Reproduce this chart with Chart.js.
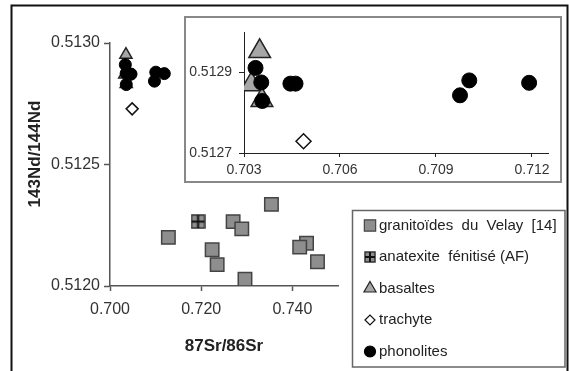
<!DOCTYPE html>
<html>
<head>
<meta charset="utf-8">
<script src="https://cdn.jsdelivr.net/npm/chart.js@4.4.0/dist/chart.umd.min.js"></script>
<style>
    body { margin: 0; background: #fff; }
    #wrap { position: relative; width: 569px; height: 371px; }
    #main { position: absolute; left: 0; top: 0; }
    #inset { position: absolute; left: 184px; top: 16px; }
</style>
</head>
<body>
<div id="wrap">
    <canvas id="main" width="569" height="371"></canvas>
    <canvas id="inset" width="378" height="167"></canvas>
</div>
<script>
// Données
const graniteX = [0.7128, 0.7270, 0.7289, 0.7224, 0.7235, 0.7296, 0.7354, 0.7431, 0.7416, 0.7455]
const graniteY = [0.51220, 0.512265, 0.512235, 0.512149, 0.512088, 0.512028, 0.512336, 0.512176, 0.512160, 0.512100]
const afX = [0.7193]
const afY = [0.512265]
const basalteX = [0.70349, 0.70323, 0.70356]
const basalteY = [0.512952, 0.512870, 0.512831]
const trachyteX = [0.70486]
const trachyteY = [0.512729]
const phonoliteX = [0.70336, 0.70354, 0.70357, 0.70445, 0.70461, 0.71004, 0.70975, 0.71191]
const phonoliteY = [0.512911, 0.512875, 0.512829, 0.512872, 0.512872, 0.512880, 0.512843, 0.512874]

const legendLabels = ['granitoïdes  du  Velay  [14]', 'anatexite  fénitisé (AF)', 'basaltes', 'trachyte', 'phonolites']

// Ticks
const mainXTicks = [0.700, 0.720, 0.740]
const mainYTicks = [0.5120, 0.5125, 0.5130]
const insetXTicks = [0.703, 0.706, 0.709, 0.712]
const insetYTicks = [0.5127, 0.5129]

const FONT = '"Liberation Sans", Arial, sans-serif'

function pts(xs, ys) {
    return xs.map((x, i) => ({ x: x, y: ys[i] }))
}

// carré gris avec une croix (AF)
function crossSquare(size) {
    const c = document.createElement('canvas')
    c.width = size
    c.height = size
    const g = c.getContext('2d')
    g.fillStyle = '#8e8e8e'
    g.fillRect(1, 1, size - 2, size - 2)
    g.strokeStyle = '#333'
    g.lineWidth = 1.5
    g.strokeRect(1, 1, size - 2, size - 2)
    g.lineWidth = 2
    g.strokeStyle = '#111'
    g.beginPath()
    g.moveTo(size / 2, 1); g.lineTo(size / 2, size - 1)
    g.moveTo(1, size / 2); g.lineTo(size - 1, size / 2)
    g.stroke()
    return c
}

function makeDatasets(big) {
    return [{
        label: legendLabels[0],
        data: pts(graniteX, graniteY),
        pointStyle: 'rect',
        pointRadius: 9.5,
        backgroundColor: '#8e8e8e',
        borderColor: '#444',
        borderWidth: 1.5,
        order: 5
    }, {
        label: legendLabels[1],
        data: pts(afX, afY),
        pointStyle: crossSquare(15),
        pointRadius: 8,
        backgroundColor: '#8e8e8e',
        borderColor: '#333',
        order: 4
    }, {
        label: legendLabels[2],
        data: pts(basalteX, basalteY),
        pointStyle: 'triangle',
        pointRadius: big ? 12.5 : 7,
        backgroundColor: '#a6a6a6',
        borderColor: '#222',
        borderWidth: 1.5,
        order: 3
    }, {
        label: legendLabels[3],
        data: pts(trachyteX, trachyteY),
        pointStyle: 'rectRot',
        pointRadius: big ? 7.5 : 6,
        backgroundColor: '#fff',
        borderColor: '#111',
        borderWidth: 1.5,
        order: 2
    }, {
        label: legendLabels[4],
        data: pts(phonoliteX, phonoliteY),
        pointStyle: 'circle',
        pointRadius: big ? 7.5 : 6,
        backgroundColor: '#000',
        borderColor: '#000',
        borderWidth: 1,
        order: 1
    }]
}

// cadre + titre Y + légende
const frameLegend = {
    id: 'frameLegend',
    afterDraw(chart) {
        const ctx = chart.ctx
        ctx.save()
        ctx.strokeStyle = '#111'
        ctx.lineWidth = 2
        ctx.beginPath()
        ctx.moveTo(11.5, 380)
        ctx.lineTo(11.5, 5.5)
        ctx.lineTo(567.5, 5.5)
        ctx.lineTo(567.5, 380)
        ctx.stroke()

        // titre de l'axe Y
        ctx.save()
        ctx.translate(35, 154)
        ctx.rotate(-Math.PI / 2)
        ctx.font = 'bold 17px ' + FONT
        ctx.fillStyle = '#222'
        ctx.textAlign = 'center'
        ctx.textBaseline = 'middle'
        ctx.fillText('143Nd/144Nd', 0, 0)
        ctx.restore()

        ctx.strokeStyle = '#666'
        ctx.lineWidth = 1.5
        ctx.strokeRect(352.5, 210.5, 212.5, 156.5)

        const radii = [8, 6, 7, 5, 5.5]
        ctx.font = '15px ' + FONT
        ctx.textBaseline = 'middle'
        chart.data.datasets.forEach((ds, i) => {
            const y = 225.5 + i * 31.5
            ctx.fillStyle = ds.backgroundColor
            ctx.strokeStyle = ds.borderColor
            ctx.lineWidth = 1.2
            let style = ds.pointStyle
            if (i == 1) style = crossSquare(12)
            Chart.helpers.drawPoint(ctx, { pointStyle: style, radius: radii[i], rotation: 0, borderWidth: 1.2 }, 370, y)
            ctx.fillStyle = '#222'
            ctx.fillText(ds.label, 379, y)
        })
        ctx.restore()
    }
}

const insetBox = {
    id: 'insetBox',
    beforeDraw(chart) {
        const ctx = chart.ctx
        ctx.save()
        ctx.fillStyle = '#fff'
        ctx.fillRect(0, 0, chart.width, chart.height)
        ctx.restore()
    },
    afterDraw(chart) {
        const ctx = chart.ctx
        ctx.save()
        ctx.strokeStyle = '#888'
        ctx.lineWidth = 2
        ctx.strokeRect(1, 1, chart.width - 2, chart.height - 2)
        ctx.restore()
    }
}

new Chart(document.getElementById('main').getContext('2d'), {
    type: 'scatter',
    data: { datasets: makeDatasets(false) },
    options: {
        responsive: false,
        animation: false,
        devicePixelRatio: 1,
        layout: { padding: { top: 43, right: 231, bottom: 0, left: 0 } },
        plugins: { legend: { display: false }, tooltip: { enabled: false } },
        scales: {
            x: {
                type: 'linear',
                min: 0.700,
                max: 0.750,
                afterBuildTicks: s => { s.ticks = mainXTicks.map(v => ({ value: v })) },
                afterFit: s => { s.height = 85 },
                ticks: { callback: v => v.toFixed(3), color: '#333', font: { family: FONT, size: 16 }, padding: 9, maxRotation: 0, autoSkip: false },
                grid: { drawOnChartArea: false, tickLength: 5, color: '#555', tickWidth: 1.5 },
                border: { color: '#555', width: 1.5 },
                title: { display: true, text: '87Sr/86Sr', color: '#222', font: { family: FONT, size: 17, weight: 'bold' }, padding: { bottom: 14 } }
            },
            y: {
                type: 'linear',
                min: 0.5120,
                max: 0.5130,
                afterBuildTicks: s => { s.ticks = mainYTicks.map(v => ({ value: v })) },
                afterFit: s => { s.width = 110 },
                ticks: { callback: v => v.toFixed(4), color: '#333', font: { family: FONT, size: 16 }, padding: 4, autoSkip: false },
                grid: { drawOnChartArea: false, tickLength: 6, color: '#555', tickWidth: 1.5 },
                border: { color: '#555', width: 1.5 }
            }
        }
    },
    plugins: [frameLegend]
})

new Chart(document.getElementById('inset').getContext('2d'), {
    type: 'scatter',
    data: { datasets: makeDatasets(true).slice(2) },
    options: {
        responsive: false,
        animation: false,
        devicePixelRatio: 1,
        layout: { padding: { top: 16, right: 13, bottom: 0, left: 0 } },
        plugins: { legend: { display: false }, tooltip: { enabled: false } },
        scales: {
            x: {
                type: 'linear',
                min: 0.703,
                max: 0.7125,
                afterBuildTicks: s => { s.ticks = insetXTicks.map(v => ({ value: v })) },
                afterFit: s => { s.height = 30 },
                ticks: { callback: v => v.toFixed(3), color: '#333', font: { family: FONT, size: 14 }, padding: 5, maxRotation: 0, autoSkip: false },
                grid: { drawOnChartArea: false, tickLength: 4, color: '#222' },
                border: { color: '#222', width: 1 }
            },
            y: {
                type: 'linear',
                min: 0.5127,
                max: 0.5130,
                afterBuildTicks: s => { s.ticks = insetYTicks.map(v => ({ value: v })) },
                afterFit: s => { s.width = 60 },
                ticks: { callback: v => v.toFixed(4), color: '#333', font: { family: FONT, size: 14 }, padding: 7, autoSkip: false },
                grid: { drawOnChartArea: false, tickLength: 5, color: '#222' },
                border: { color: '#222', width: 1 }
            }
        }
    },
    plugins: [insetBox]
})
</script>
</body>
</html>
